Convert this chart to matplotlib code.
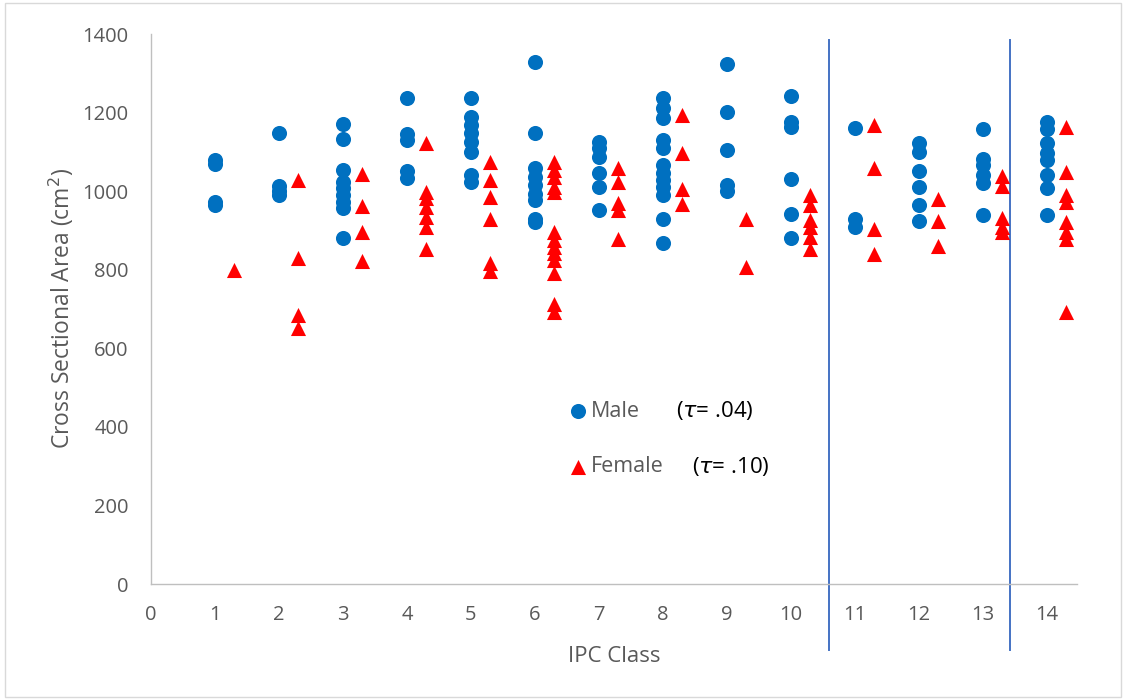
import matplotlib
matplotlib.use("Agg")
import matplotlib.pyplot as plt
from matplotlib.patches import Rectangle

# IPC class and cross-sectional areas (cm^2) for each class
ipc_class = list(range(1, 15))

male_area = [
    [1080, 1070, 972, 966],
    [1148, 1012, 1000, 990],
    [1172, 1134, 1055, 1024, 1007, 990, 973, 956, 881],
    [1238, 1145, 1130, 1052, 1034],
    [1236, 1189, 1168, 1147, 1126, 1100, 1041, 1024],
    [1330, 1149, 1058, 1037, 1016, 994, 977, 930, 922],
    [1126, 1109, 1088, 1047, 1011, 952],
    [1236, 1211, 1185, 1130, 1109, 1066, 1045, 1028, 1011, 990, 928, 869],
    [1323, 1202, 1106, 1016, 1001],
    [1242, 1177, 1164, 1031, 942, 880],
    [1161, 928, 908],
    [1122, 1100, 1052, 1010, 965, 924],
    [1158, 1083, 1066, 1041, 1022, 939],
    [1177, 1157, 1122, 1096, 1079, 1041, 1007, 939],
]

female_area = [
    [800],
    [1028, 830, 684, 652],
    [1043, 962, 895, 822],
    [1123, 999, 982, 960, 935, 909, 854],
    [1075, 1028, 984, 928, 816, 797],
    [1075, 1054, 1037, 1011, 999, 897, 876, 859, 842, 825, 791, 714, 693],
    [1060, 1024, 969, 953, 877],
    [1194, 1096, 1005, 967],
    [929, 808],
    [990, 965, 926, 910, 884, 854],
    [1168, 1060, 903, 839],
    [979, 924, 861],
    [1039, 1013, 931, 910, 897],
    [1164, 1049, 990, 973, 922, 897, 877, 693],
]

series_labels = ["Male", "Female"]
tau_labels = ["(" + r"$\tau$" + "= .04)", "(" + r"$\tau$" + "= .10)"]
group_dividers = [10.59, 13.42]
x_ticks = list(range(0, 15))
y_ticks = list(range(0, 1401, 200))

FEMALE_SHIFT = 0.3
BLUE = "#0070C0"
RED = "#FF0000"
GRAY_TEXT = "#595959"
AXIS_GRAY = "#BFBFBF"
FONT = ["Open Sans", "DejaVu Sans"]

plt.rcParams["font.family"] = FONT
plt.rcParams["mathtext.fontset"] = "dejavusans"

fig = plt.figure(figsize=(11.25, 7.0), dpi=100)
ax = fig.add_axes([0.1342, 0.1657, 0.8231, 0.7857])

mx, my, fx, fy = [], [], [], []
for c, vals in zip(ipc_class, male_area):
    mx += [c] * len(vals)
    my += vals
for c, vals in zip(ipc_class, female_area):
    fx += [c + FEMALE_SHIFT] * len(vals)
    fy += vals

h_m = ax.scatter(mx, my, s=118, marker="o", color=BLUE, linewidths=0, zorder=3)
h_f = ax.scatter(fx, fy, s=118, marker="^", color=RED, linewidths=0, zorder=3)

ax.set_xlim(0, 14.47)
ax.set_ylim(0, 1400)
ax.set_xticks(x_ticks)
ax.set_yticks(y_ticks)
ax.tick_params(axis="both", length=0, labelsize=14.5, labelcolor=GRAY_TEXT)
ax.tick_params(axis="x", pad=15)
ax.tick_params(axis="y", pad=16)

for side in ["top", "right"]:
    ax.spines[side].set_visible(False)
for side in ["left", "bottom"]:
    ax.spines[side].set_color(AXIS_GRAY)
    ax.spines[side].set_linewidth(1.0)

ax.set_xlabel("IPC Class", fontsize=16, color=GRAY_TEXT, labelpad=15)
ax.set_ylabel("Cross Sectional Area (cm$^2$)", fontsize=16.5, color=GRAY_TEXT, labelpad=5)

# vertical group dividers, running past the bottom of the plot area
for xd in group_dividers:
    ax.plot([xd, xd], [-0.12, 0.989], transform=ax.get_xaxis_transform(),
            color="#4472C4", lw=1.4, clip_on=False, zorder=2)

leg = ax.legend([h_m, h_f], series_labels, loc="upper left",
                bbox_to_anchor=(565 / 1125, 1 - 401 / 700), bbox_transform=fig.transFigure,
                frameon=False, fontsize=15.5, labelcolor=GRAY_TEXT,
                handletextpad=0.0, handlelength=1.2, labelspacing=1.6,
                borderpad=0, borderaxespad=0)

fig.text(676 / 1125, 1 - 410 / 700, tau_labels[0], fontsize=16, color="black",
         va="center", ha="left")
fig.text(692 / 1125, 1 - 466 / 700, tau_labels[1], fontsize=16, color="black",
         va="center", ha="left")

fig.add_artist(Rectangle((5 / 1125, 3 / 700), 1116 / 1125, 694 / 700,
                         transform=fig.transFigure, fill=False,
                         edgecolor="#D9D9D9", lw=1.0))

fig.savefig("out.png", dpi=100)
